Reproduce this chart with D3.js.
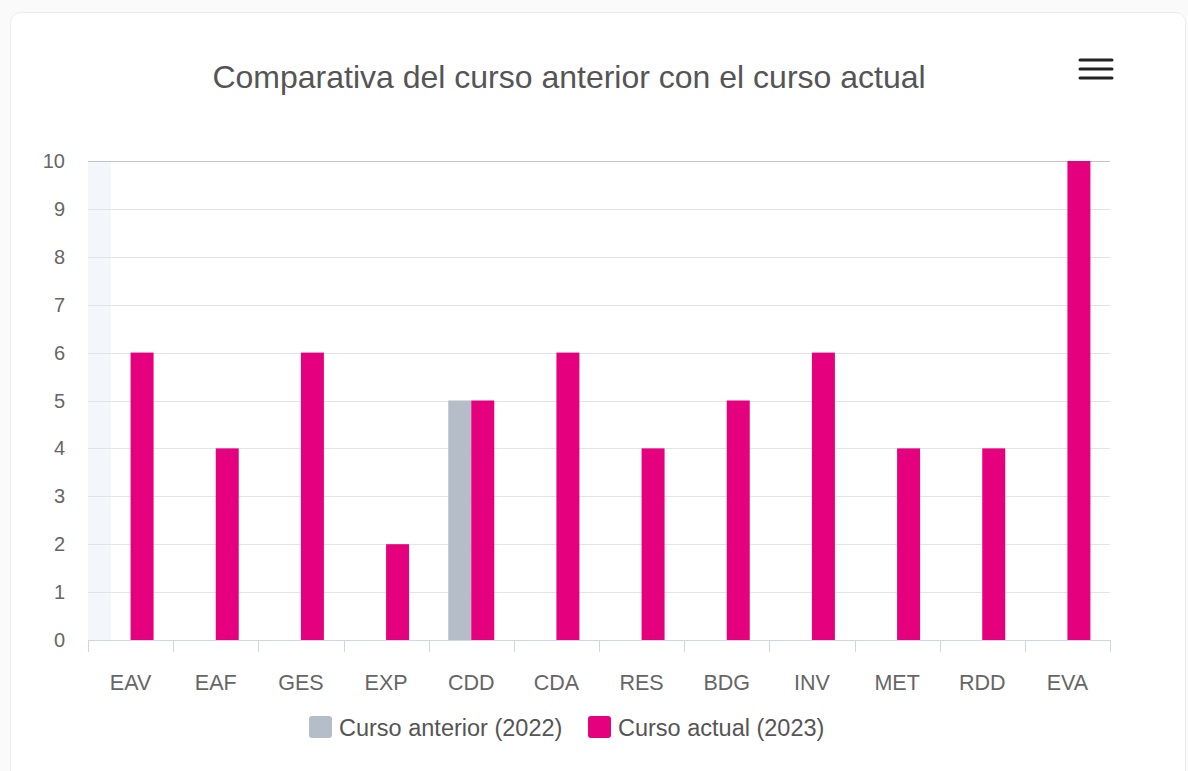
<!DOCTYPE html>
<html>
<head>
<meta charset="utf-8">
<script src="https://cdn.jsdelivr.net/npm/d3@7"></script>
<style>
  html, body { margin: 0; padding: 0; background: #fafafa; }
  svg { display: block; font-family: "Liberation Sans", Arial, sans-serif; }
</style>
</head>
<body>
<svg id="chart" width="1188" height="771"></svg>
<script>
const categories = ["EAV","EAF","GES","EXP","CDD","CDA","RES","BDG","INV","MET","RDD","EVA"];
const seriesNames = ["Curso anterior (2022)", "Curso actual (2023)"];
const seriesColors = ["#b5bdc9", "#e5007e"];
const anterior2022 = [0,0,0,0,5,0,0,0,0,0,0,0];
const actual2023 = [6,4,6,2,5,6,4,5,6,4,4,10];
const yTicks = [0,1,2,3,4,5,6,7,8,9,10];
const titleText = "Comparativa del curso anterior con el curso actual";

(function () {
const svg = d3.select("#chart");

// card
svg.append("rect").attr("x", 10.5).attr("y", 12.5).attr("width", 1175).attr("height", 800)
  .attr("rx", 10).attr("fill", "#ffffff").attr("stroke", "#ececec");

const pLeft = 88, pRight = 1110, pTop = 161, pBottom = 640;
const x = d3.scaleBand().domain(categories).range([pLeft, pRight]).padding(0);
const bw = x.bandwidth();
const xs = d3.scaleBand().domain(seriesNames).range([bw * 0.23, bw * 0.77]).padding(0);
const y = d3.scaleLinear().domain([0, 10]).range([pBottom, pTop]);

// hover band artifact on first category
svg.append("rect").attr("x", x(categories[0])).attr("y", pTop)
  .attr("width", bw * 0.27).attr("height", pBottom - pTop)
  .attr("fill", "#f3f6fa");

// gridlines
svg.append("g").selectAll("line").data(yTicks).join("line")
  .attr("x1", pLeft).attr("x2", pRight)
  .attr("y1", d => Math.round(y(d)) + 0.5).attr("y2", d => Math.round(y(d)) + 0.5)
  .attr("stroke", d => d === 10 ? "#c4c4c4" : "#e4e4e4").attr("stroke-width", 1);

// y labels
svg.append("g").selectAll("text").data(yTicks).join("text")
  .attr("x", 65).attr("y", d => y(d) + 7)
  .attr("text-anchor", "end").attr("font-size", 20).attr("fill", "#666666")
  .text(d => d);

// bars
const rows = categories.map((c, i) => ({ c, vals: [anterior2022[i], actual2023[i]] }));
const g = svg.append("g");
rows.forEach(r => {
  r.vals.forEach((v, j) => {
    if (v <= 0) return;
    g.append("rect")
      .attr("x", x(r.c) + xs(seriesNames[j]))
      .attr("y", y(v))
      .attr("width", xs.bandwidth())
      .attr("height", y(0) - y(v))
      .attr("fill", seriesColors[j]);
  });
});

// x axis
const xAxis = d3.axisBottom(x).tickSize(0).tickPadding(0);
const ax = svg.append("g").attr("transform", `translate(0,${pBottom})`).call(xAxis);
ax.select(".domain").remove();
ax.selectAll("text").attr("font-size", 21.5).attr("fill", "#666666")
  .attr("font-family", "Liberation Sans, Arial, sans-serif").attr("dy", null).attr("y", 50);
svg.append("line").attr("x1", pLeft).attr("x2", pRight).attr("y1", pBottom + 0.5).attr("y2", pBottom + 0.5)
  .attr("stroke", "#ccd6eb").attr("stroke-width", 1);
const boundaries = categories.map(c => x(c)).concat([pRight]);
svg.append("g").selectAll("line").data(boundaries).join("line")
  .attr("x1", d => Math.round(d) + 0.5).attr("x2", d => Math.round(d) + 0.5)
  .attr("y1", pBottom).attr("y2", pBottom + 12)
  .attr("stroke", "#ccd6eb");

// title
svg.append("text").attr("x", 569).attr("y", 88).attr("text-anchor", "middle")
  .attr("font-size", 32).attr("fill", "#555555").text(titleText);

// menu icon
svg.append("g").selectAll("line").data([60, 69, 78]).join("line")
  .attr("x1", 1080).attr("x2", 1112).attr("y1", d => d).attr("y2", d => d)
  .attr("stroke", "#222").attr("stroke-width", 3).attr("stroke-linecap", "round");

// legend
const legendItems = [
  { name: seriesNames[0], color: seriesColors[0], x: 309 },
  { name: seriesNames[1], color: seriesColors[1], x: 588 }
];
const lg = svg.append("g");
legendItems.forEach(it => {
  lg.append("rect").attr("x", it.x).attr("y", 716).attr("width", 23).attr("height", 22)
    .attr("rx", 3).attr("fill", it.color);
  lg.append("text").attr("x", it.x + 30).attr("y", 736).attr("font-size", 23.5)
    .attr("fill", "#555555").text(it.name);
});
})();
</script>
</body>
</html>
